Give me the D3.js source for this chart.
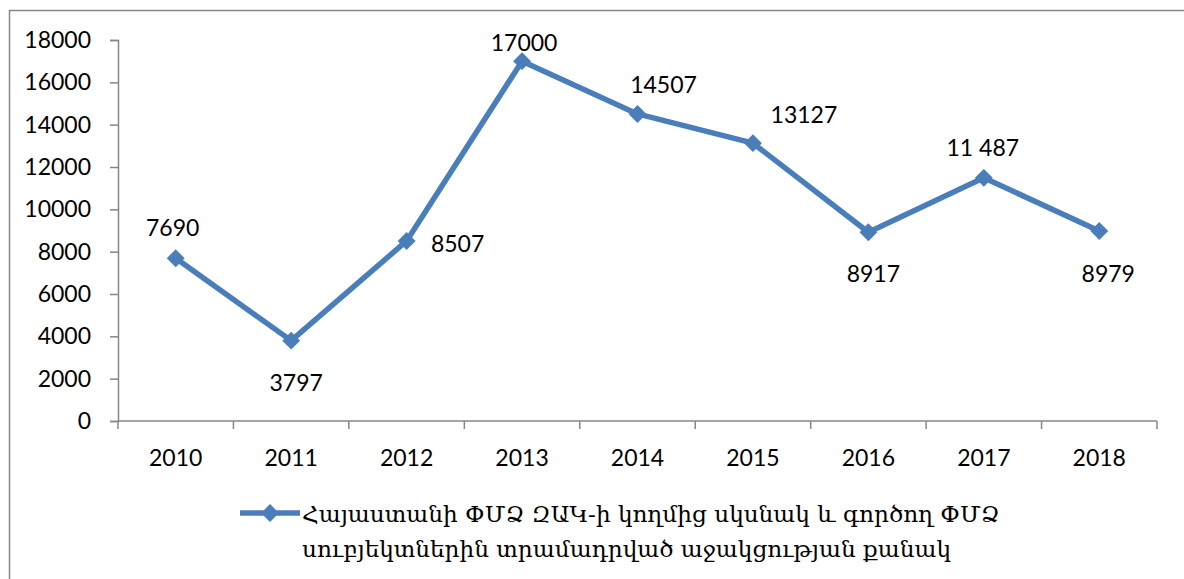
<!DOCTYPE html>
<html>
<head>
<meta charset="utf-8">
<script src="https://cdn.jsdelivr.net/npm/d3@7"></script>
<style>
    body { margin: 0; background: #fff; }
    svg { display: block; }
    .tickText { font-family: Lato, "Liberation Sans", sans-serif; font-size: 23px; fill: #000; }
    .legendText { font-family: "DejaVu Serif", serif; fill: #000; }
</style>
</head>
<body>
<div id="chartDiv"></div>
<script>
const years = ["2010", "2011", "2012", "2013", "2014", "2015", "2016", "2017", "2018"]
const values = [7690, 3797, 8507, 17000, 14507, 13127, 8917, 11487, 8979]
const valueLabels = ["7690", "3797", "8507", "17000", "14507", "13127", "8917", "11 487", "8979"]
const yTicks = [0, 2000, 4000, 6000, 8000, 10000, 12000, 14000, 16000, 18000]
const legendLines = [
    "Հայաստանի ՓՄՁ ԶԱԿ-ի կողմից սկսնակ և գործող ՓՄՁ",
    "սուբյեկտներին տրամադրված աջակցության քանակ"
]

// where each data label sits relative to its point (layout only)
const labelOffset = [[-3, -31], [5, 41], [51, 2], [2, -19], [26, -30], [51, -29], [5, 41], [-1, -31], [9, 42]]

const width = 1184
const height = 579
const lineColor = "#4A7EBB"
const axisColor = "#868686"

const svg = d3.select("#chartDiv")
    .append("svg")
    .attr("width", width)
    .attr("height", height)

// outer frame, runs off the right and bottom edges
svg.append("rect")
    .attr("x", 9.5).attr("y", 10.5)
    .attr("width", width + 20).attr("height", height + 20)
    .attr("fill", "none")
    .attr("stroke", axisColor)
    .attr("stroke-width", 1.5)

const x = d3.scaleBand().domain(years).range([118, 1157]).padding(0)
const y = d3.scaleLinear().domain([0, 18000]).range([421, 40])
const cx = d => x(d) + x.bandwidth() / 2

// y axis
const yAxis = svg.append("g")
    .attr("transform", "translate(118,0)")
    .call(d3.axisLeft(y).tickValues(yTicks).tickSize(8).tickPadding(19).tickFormat(d3.format("d")))
yAxis.select(".domain").attr("stroke", axisColor).attr("stroke-width", 1.5)
yAxis.selectAll(".tick line").attr("stroke", axisColor).attr("stroke-width", 1.5)
yAxis.selectAll(".tick text").attr("class", "tickText").attr("font-family", null).attr("font-size", null)

// x axis, ticks between categories
const xAxis = svg.append("g").attr("transform", "translate(0,421)")
xAxis.append("line")
    .attr("x1", x.range()[0]).attr("x2", x.range()[1])
    .attr("stroke", axisColor).attr("stroke-width", 1.5)
xAxis.selectAll("line.xTick")
    .data(years.map(d => x(d)).concat([x.range()[1]]))
    .enter().append("line")
    .classed("xTick", true)
    .attr("x1", d => d).attr("x2", d => d)
    .attr("y1", 0).attr("y2", 8)
    .attr("stroke", axisColor).attr("stroke-width", 1.5)
xAxis.selectAll("text")
    .data(years)
    .enter().append("text")
    .attr("class", "tickText")
    .attr("x", cx)
    .attr("y", 36)
    .attr("text-anchor", "middle")
    .attr("dominant-baseline", "central")
    .text(d => d)

const points = years.map((yr, i) => ({ year: yr, value: values[i], label: valueLabels[i], off: labelOffset[i] }))

// series line
svg.append("path")
    .datum(points)
    .attr("fill", "none")
    .attr("stroke", lineColor)
    .attr("stroke-width", 5.5)
    .attr("stroke-linejoin", "round")
    .attr("d", d3.line().x(d => cx(d.year)).y(d => y(d.value)))

const diamond = d3.symbol().type(d3.symbolSquare).size(160)

svg.selectAll("path.marker")
    .data(points)
    .enter().append("path")
    .classed("marker", true)
    .attr("d", diamond)
    .attr("fill", lineColor)
    .attr("transform", d => `translate(${cx(d.year)},${y(d.value)}) rotate(45)`)

svg.selectAll("text.valueLabel")
    .data(points)
    .enter().append("text")
    .attr("class", "tickText valueLabel")
    .attr("x", d => cx(d.year) + d.off[0])
    .attr("y", d => y(d.value) + d.off[1])
    .attr("text-anchor", "middle")
    .attr("dominant-baseline", "central")
    .text(d => d.label)

// legend
const legend = svg.append("g")
legend.append("line")
    .attr("x1", 240).attr("x2", 300)
    .attr("y1", 513).attr("y2", 513)
    .attr("stroke", lineColor).attr("stroke-width", 5.5)
legend.append("path")
    .attr("d", diamond)
    .attr("fill", lineColor)
    .attr("transform", "translate(270,513) rotate(45)")

const legendText = legend.selectAll("text")
    .data(legendLines)
    .enter().append("text")
    .attr("class", "legendText")
    .attr("x", 302)
    .attr("y", (d, i) => 513 + i * 35)
    .attr("dominant-baseline", "central")
    .attr("font-size", 22)
    .text(d => d)

// shrink the legend font so the first line spans about what the reference shows
const firstWidth = legendText.node().getComputedTextLength()
const fitSize = Math.min(24, 22 * 698 / firstWidth)
legendText.attr("font-size", fitSize)
</script>
</body>
</html>
